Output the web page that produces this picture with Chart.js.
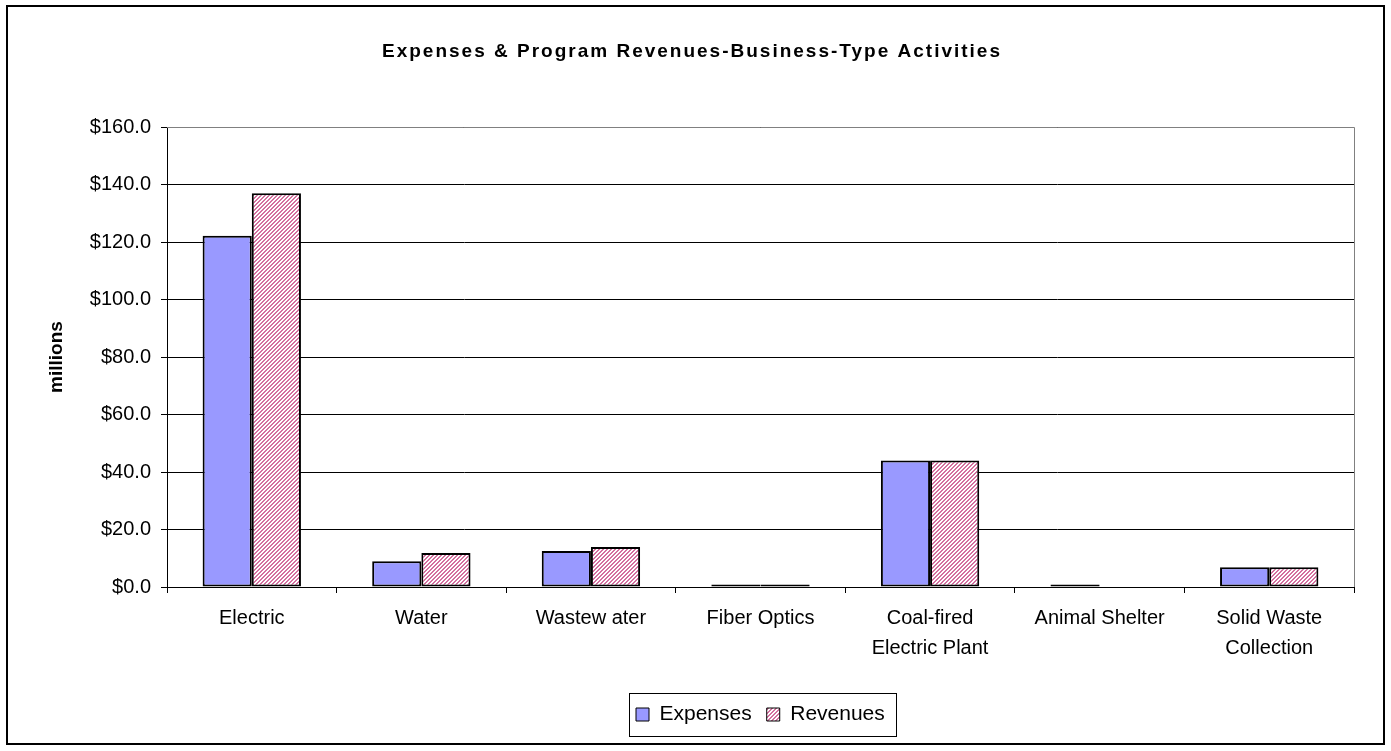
<!DOCTYPE html>
<html>
<head>
<meta charset="utf-8">
<script src="https://cdn.jsdelivr.net/npm/chart.js@4"></script>
<style>
html,body{margin:0;padding:0;background:#fff;}
#wrap{width:1391px;height:751px;position:relative;}
</style>
</head>
<body>
<div id="wrap"><canvas id="c" width="1391" height="751"></canvas></div>
<script>
const chartTitle = "Expenses & Program Revenues-Business-Type Activities";
const categories = ["Electric", "Water", "Wastew ater", "Fiber Optics", ["Coal-fired", "Electric Plant"], "Animal Shelter", ["Solid Waste", "Collection"]];
const expenses = [122.2, 9.0, 12.5, 0.9, 44.0, 0.9, 6.9];
const revenues = [137.0, 11.8, 13.9, 0.9, 44.0, 0.0, 6.9];
const yTicks = [0, 20, 40, 60, 80, 100, 120, 140, 160];

const FONT = 'Arial, "Liberation Sans", sans-serif';
const LEGEND_LEFT = 636;

function makePattern() {
  const p = document.createElement('canvas');
  p.width = 4; p.height = 4;
  const g = p.getContext('2d');
  g.fillStyle = '#ffffff';
  g.fillRect(0, 0, 4, 4);
  g.fillStyle = '#d4709f';
  for (let i = 0; i < 4; i++) {
    g.fillRect((3 - i + 4) % 4, i, 1, 1);
    g.fillRect((4 - i + 4) % 4, i, 1, 1);
  }
  return document.getElementById('c').getContext('2d').createPattern(p, 'repeat');
}
const hatch = makePattern();

const framePlugin = {
  id: 'frame',
  afterUpdate(chart) {
    const lg = chart.legend;
    if (!lg || !lg.legendHitBoxes || !lg.legendHitBoxes.length) return;
    const minX = Math.min(...lg.legendHitBoxes.map(b => b.left));
    const shift = LEGEND_LEFT - minX;
    lg.left += shift;
    lg.right += shift;
    lg.legendHitBoxes.forEach(b => { b.left += shift; });
  },
  beforeDraw(chart) {
    const ctx = chart.ctx;
    ctx.save();
    ctx.fillStyle = '#fff';
    ctx.fillRect(0, 0, chart.width, chart.height);
    ctx.restore();
  },
  afterDraw(chart) {
    const ctx = chart.ctx;
    const a = chart.chartArea;
    ctx.save();
    ctx.strokeStyle = '#808080';
    ctx.lineWidth = 1;
    ctx.beginPath();
    ctx.moveTo(a.left, a.top + 0.5);
    ctx.lineTo(a.right + 0.5, a.top + 0.5);
    ctx.lineTo(a.right + 0.5, a.bottom);
    ctx.stroke();
    ctx.strokeStyle = '#000';
    ctx.lineWidth = 2;
    ctx.strokeRect(7, 6, 1377, 738);
    ctx.fillStyle = '#000';
    ctx.font = 'bold 19px ' + FONT;
    ctx.letterSpacing = '2px';
    ctx.textAlign = 'center';
    ctx.textBaseline = 'alphabetic';
    ctx.fillText(chartTitle, 692, 57);
    ctx.letterSpacing = '0px';
    const lg = chart.legend;
    if (lg && lg.legendHitBoxes && lg.legendHitBoxes.length) {
      let minX = Infinity, maxX = -Infinity, minY = Infinity, maxY = -Infinity;
      lg.legendHitBoxes.forEach(b => {
        minX = Math.min(minX, b.left); maxX = Math.max(maxX, b.left + b.width);
        minY = Math.min(minY, b.top); maxY = Math.max(maxY, b.top + b.height);
      });
      const cy = (minY + maxY) / 2;
      ctx.lineWidth = 1;
      ctx.strokeStyle = '#000';
      ctx.strokeRect(Math.round(minX - 7) + 0.5, Math.round(cy - 21.5) + 0.5, Math.round(maxX - minX + 18), 43);
    }
    ctx.restore();
  }
};

new Chart(document.getElementById('c'), {
  type: 'bar',
  data: {
    labels: categories,
    datasets: [
      { label: 'Expenses', data: expenses, backgroundColor: '#9999ff', borderColor: '#000', borderWidth: 2, borderSkipped: false },
      { label: 'Revenues', data: revenues, backgroundColor: hatch, borderColor: '#000', borderWidth: 2, borderSkipped: false }
    ]
  },
  options: {
    responsive: false,
    animation: false,
    devicePixelRatio: 1,
    layout: { padding: { left: 0, right: 37, top: 127, bottom: 16 } },
    datasets: { bar: { categoryPercentage: 0.58, barPercentage: 1.0 } },
    plugins: {
      title: { display: false },
      legend: {
        display: true,
        position: 'bottom',
        labels: {
          color: '#000',
          font: { family: FONT, size: 21 },
          boxWidth: 13, boxHeight: 13,
          padding: 15,
          generateLabels(chart) {
            return chart.data.datasets.map((ds, i) => ({
              text: ds.label,
              fillStyle: ds.backgroundColor,
              strokeStyle: '#000',
              lineWidth: 1,
              datasetIndex: i,
              hidden: false,
              fontColor: '#000'
            }));
          }
        }
      },
      tooltip: { enabled: false }
    },
    scales: {
      x: {
        offset: true,
        grid: { display: true, offset: true, drawOnChartArea: false, color: '#000', tickLength: 6, tickColor: '#000' },
        border: { color: '#000', width: 1 },
        ticks: {
          color: '#000',
          font: { family: FONT, size: 20, lineHeight: 1.5 },
          maxRotation: 0, autoSkip: false, padding: 10
        },
        afterFit(s) { s.height = 102; }
      },
      y: {
        min: 0, max: 160,
        afterBuildTicks(s) { s.ticks = yTicks.map(v => ({ value: v })); },
        grid: { color: '#000', tickLength: 6, tickColor: '#000' },
        border: { color: '#000', width: 1 },
        ticks: {
          color: '#000',
          font: { family: FONT, size: 20 },
          padding: 10,
          callback: v => '$' + Number(v).toFixed(1)
        },
        title: {
          display: true, text: 'millions', color: '#000',
          font: { family: FONT, size: 19, weight: 'bold' },
          padding: { top: 45, bottom: 0 }
        },
        afterFit(s) { s.width = 167; }
      }
    }
  },
  plugins: [framePlugin]
});
</script>
</body>
</html>
